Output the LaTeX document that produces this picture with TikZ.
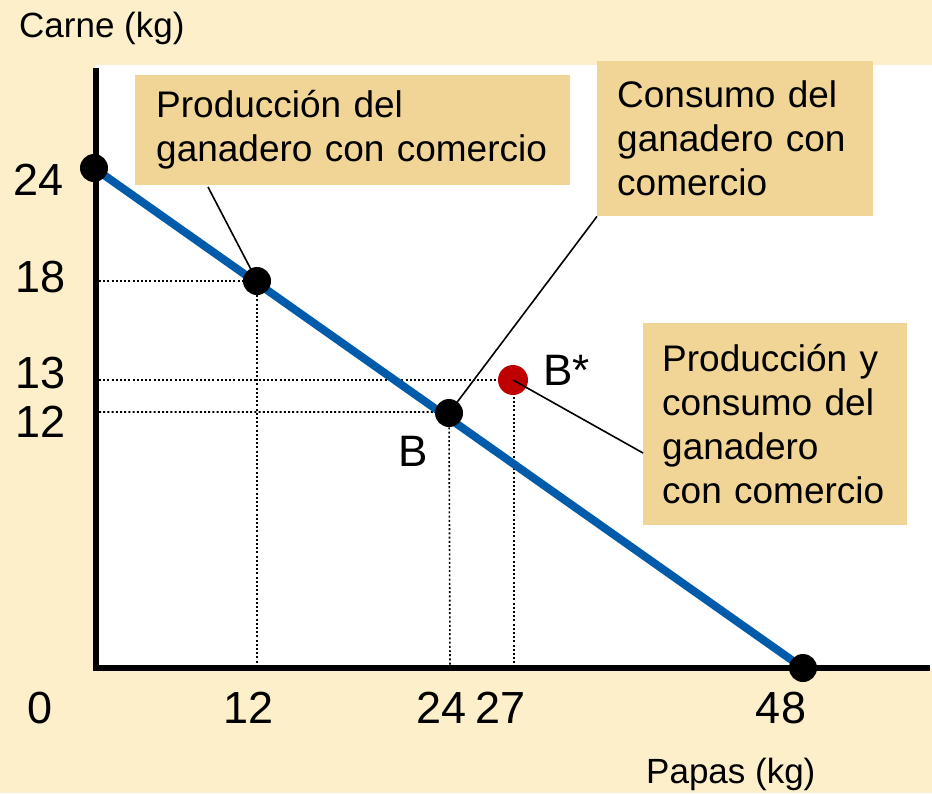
\documentclass[tikz,border=0pt]{standalone}
\usepackage{fontspec}
\setmainfont{Liberation Sans}
\hyphenpenalty=10000
\exhyphenpenalty=10000
\definecolor{cream}{RGB}{253,239,201}
\definecolor{boxfill}{RGB}{240,213,150}
\definecolor{ppfblue}{RGB}{0,91,170}
\definecolor{dotred}{RGB}{192,0,0}
\begin{document}
\begin{tikzpicture}[x=1pt,y=-1pt,
  axis/.style={line width=6pt},
  dotline/.style={line width=1.6pt,dash pattern=on 2pt off 2.2pt},
  conn/.style={line width=1.6pt},
  blk/.style={circle,fill=black,minimum size=28pt,inner sep=0pt},
  redpt/.style={circle,fill=dotred,minimum size=30pt,inner sep=0pt},
  lbl/.style={inner sep=0pt,font=\fontsize{45}{54}\selectfont},
  axlbl/.style={inner sep=0pt,font=\fontsize{35}{42}\selectfont},
  infobox/.style={fill=boxfill,anchor=north west,inner ysep=0pt,
    align=left,font=\fontsize{37}{44}\selectfont}]
\useasboundingbox (0,0) rectangle (932,793);
\fill[cream] (0,0) rectangle (932,793);
\fill[white] (95,65) rectangle (932,668);

% axes
\coordinate (O) at (96,668);
\coordinate (ytop) at (96,68);
\coordinate (xend) at (930,668);
\draw[axis] (96,671) -- (ytop);
\draw[axis] (93,668) -- (xend);

% points
\coordinate (pA) at (94,168);
\coordinate (p12) at (257,281);
\coordinate (pB) at (449,413);
\coordinate (pBs) at (513,380);
\coordinate (p48) at (803,668);

% axis projection points
\coordinate (y18) at (99,281);
\coordinate (y13) at (99,380);
\coordinate (y12) at (99,412);
\coordinate (x12) at (257,665);
\coordinate (x24) at (450,665);
\coordinate (x27) at (514,665);

\draw[dotline] (y18) -- (p12) -- (x12);
\draw[dotline] (y13) -- (pBs);
\draw[dotline] (y12) -- (449,412) -- (x24);
\draw[dotline] (514,380) -- (x27);

% PPF line
\draw[ppfblue,line width=8pt] (pA) -- (p48);

% boxes
\node[infobox,inner xsep=21pt,minimum width=435pt,minimum height=110pt,text width=393pt] (b1) at (135,75)
  {Producción del\\ganadero con comercio};
\node[infobox,inner xsep=20pt,minimum width=276pt,minimum height=155pt,text width=236pt] (b2) at (597,61)
  {Consumo del\\ganadero con\\comercio};
\node[infobox,inner xsep=19pt,minimum width=264pt,minimum height=202pt,text width=226pt] (b3) at (643,323)
  {Producción y\\consumo del\\ganadero\\con comercio};

% connectors
\coordinate (c1s) at (208,187);
\coordinate (c3e) at (643,453);
\draw[conn] (c1s) -- (p12);
\draw[conn] (pB) -- (b2.south west);

% dots
\node[blk] (dA) at (pA) {};
\node[blk] (d12) at (p12) {};
\node[blk] (dB) at (pB) {};
\node[blk] (d48) at (p48) {};
\node[redpt] (dBs) at (pBs) {};
\draw[conn] (dBs.center) -- (c3e);

% labels
\node[axlbl,anchor=base west] (ylab) at (19,37) {Carne (kg)};
\node[axlbl,anchor=base west] (xlab) at (646,783) {Papas (kg)};
\node[lbl,anchor=base west] (l24) at (13,195) {24};
\node[lbl,anchor=base west] (l18) at (15,292) {18};
\node[lbl,anchor=base west] (l13) at (15,388) {13};
\node[lbl,anchor=base west] (l12) at (15,437) {12};
\node[lbl,anchor=base] (lx0) at (40,723) {0};
\node[lbl,anchor=base] (lx12) at (249,723) {12};
\node[lbl,anchor=base] (lx24) at (442,723) {24};
\node[lbl,anchor=base] (lx27) at (501,723) {27};
\node[lbl,anchor=base] (lx48) at (781,723) {48};
\node[lbl,anchor=base,font=\fontsize{44}{52}\selectfont] (lB) at (413,466) {B};
\node[lbl,anchor=base west,font=\fontsize{44}{52}\selectfont] (lBs) at (543,385) {B*};
\end{tikzpicture}
\end{document}
